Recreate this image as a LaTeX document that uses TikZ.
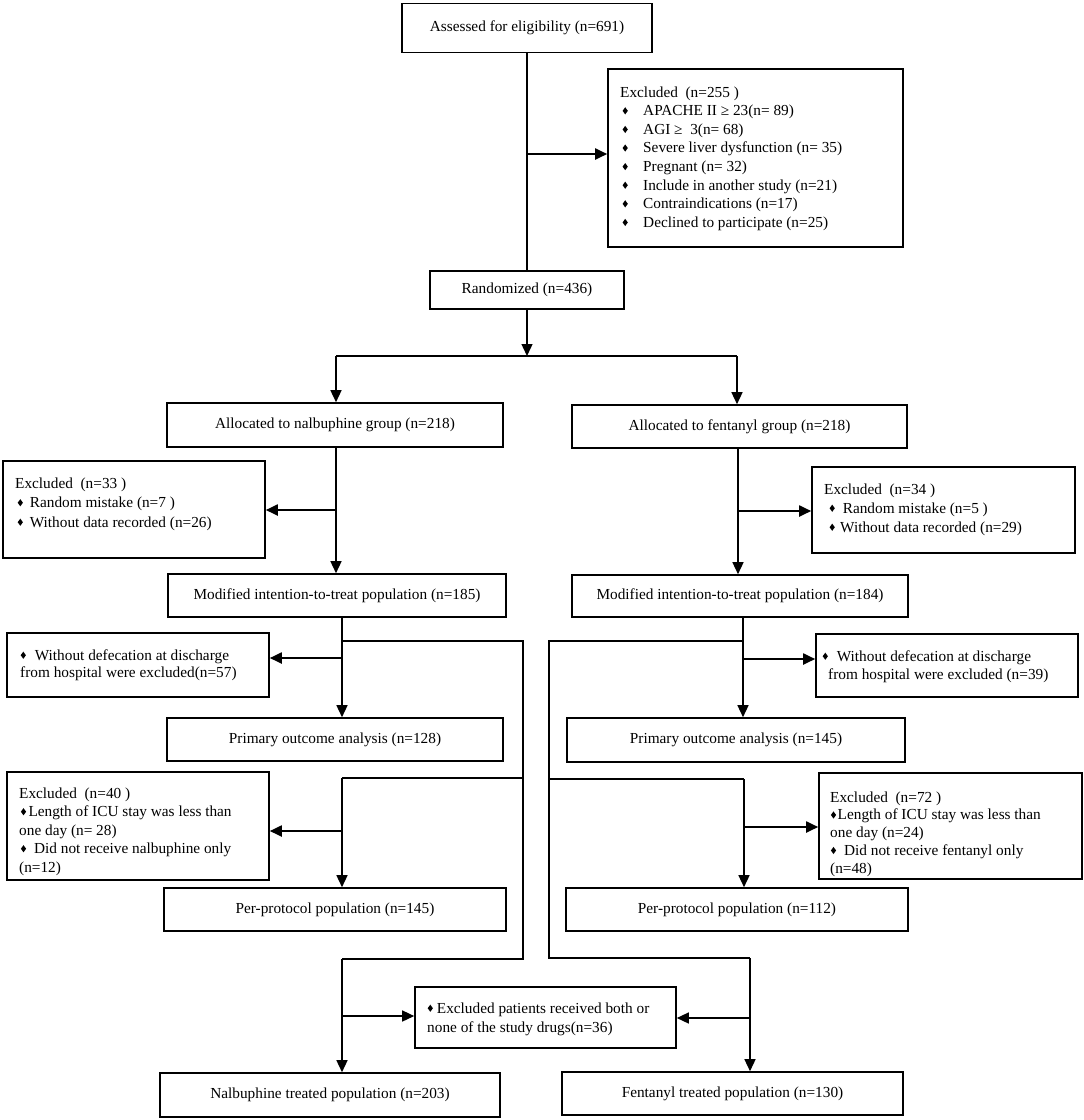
\documentclass[tikz,border=0pt]{standalone}
\usepackage{fontspec}
\setmainfont{Liberation Serif}
\usetikzlibrary{arrows.meta}
\newcommand\dmd{\raisebox{1.2pt}{\scalebox{0.8}[1.1]{\rotatebox{45}{\rule{4.6pt}{4.6pt}}}}}
\newcommand\itm{\makebox[23pt][l]{\hspace{2.4pt}\dmd}}
\newcommand\mlines[2]{{\fontsize{15.3}{#1}\selectfont\begin{tabular}[t]{@{}l@{}}#2\end{tabular}}}
\begin{document}
\begin{tikzpicture}[x=1pt,y=-1pt,
  box/.style={draw,line width=1.6pt,inner sep=0pt,font=\fontsize{15.3}{18.5}\selectfont},
  ln/.style={line width=1.4pt},
  arr/.style={line width=1.4pt,-{Triangle[length=12pt,width=11pt]}},
  sarr/.style={line width=1.9pt,-{Triangle[length=12pt,width=11pt]}},
  txt/.style={anchor=base west,inner sep=0pt}]
\useasboundingbox[fill=white] (0,0) rectangle (1084,1120);

% ---------- boxes ----------
\node[box,minimum width=250pt,minimum height=49pt] (assess) at (527,28) {Assessed for eligibility (n=691)};
\node[box,minimum width=295pt,minimum height=178pt] (excl0) at (755.5,158) {};
\node[txt] (excl0t) at (620,97) {\mlines{18.6}{Excluded\ \ (n=255 )\\
\itm APACHE II ≥ 23(n= 89)\\
\itm AGI ≥\ \ 3(n= 68)\\
\itm Severe liver dysfunction (n= 35)\\
\itm Pregnant (n= 32)\\
\itm Include in another study (n=21)\\
\itm Contraindications (n=17)\\
\itm Declined to participate (n=25)}};

\node[box,minimum width=194pt,minimum height=38pt] (rand) at (527,290) {Randomized (n=436)};
\node[box,minimum width=336pt,minimum height=44pt] (allocL) at (335,425) {Allocated to nalbuphine group (n=218)};
\node[box,minimum width=335pt,minimum height=43pt] (allocR) at (739.5,426.5) {Allocated to fentanyl group (n=218)};

\node[box,minimum width=262pt,minimum height=97pt] (exclL1) at (134,509.5) {};
\node[txt] (exclL1t) at (15,488) {\mlines{19.5}{Excluded\ \ (n=33 )\\
\hspace{2.5pt}\dmd\hspace{7pt}Random mistake (n=7 )\\
\hspace{2.5pt}\dmd\hspace{7pt}Without data recorded (n=26)}};

\node[box,minimum width=263pt,minimum height=86pt] (exclR1) at (943.5,510) {};
\node[txt] (exclR1t) at (824,494) {\mlines{19}{Excluded\ \ (n=34 )\\
\hspace{5.4pt}\dmd\hspace{8pt}Random mistake (n=5 )\\
\hspace{5.4pt}\dmd\hspace{5.4pt}Without data recorded (n=29)}};

\node[box,minimum width=338pt,minimum height=43pt] (mittL) at (337,595.5) {Modified intention-to-treat population (n=185)};
\node[box,minimum width=336pt,minimum height=42pt] (mittR) at (740,596) {Modified intention-to-treat population (n=184)};

\node[box,minimum width=262pt,minimum height=64pt] (defL) at (138,665) {};
\node[txt] (defLt) at (20,660) {\mlines{17.5}{\hspace{0.5pt}\dmd\hspace{9pt}Without defecation at discharge\\
from hospital were excluded(n=57)}};

\node[box,minimum width=262pt,minimum height=63pt] (defR) at (947,665.5) {};
\node[txt] (defRt) at (822,661) {\mlines{18}{\hspace{0.5pt}\dmd\hspace{9pt}Without defecation at discharge\\
\hspace{6pt}from hospital were excluded (n=39)}};

\node[box,minimum width=336pt,minimum height=43pt] (primL) at (335,739.5) {Primary outcome analysis (n=128)};
\node[box,minimum width=338pt,minimum height=44pt] (primR) at (736,740) {Primary outcome analysis (n=145)};

\node[box,minimum width=262pt,minimum height=108pt] (exclL2) at (138,826) {};
\node[txt] (exclL2t) at (19,798) {\mlines{18.5}{Excluded\ \ (n=40 )\\
\hspace{1.7pt}\dmd\hspace{2.4pt}Length of ICU stay was less than\\
one day (n= 28)\\
\hspace{1.7pt}\dmd\hspace{8pt}Did not receive nalbuphine only\\
(n=12)}};

\node[box,minimum width=263pt,minimum height=106pt] (exclR2) at (950.5,826) {};
\node[txt] (exclR2t) at (830,802) {\mlines{17.75}{Excluded\ \ (n=72 )\\
\hspace{0.7pt}\dmd\hspace{1.6pt}Length of ICU stay was less than\\
one day (n=24)\\
\hspace{0.7pt}\dmd\hspace{8pt}Did not receive fentanyl only\\
(n=48)}};

\node[box,minimum width=342pt,minimum height=43pt] (ppL) at (335,909.5) {Per-protocol population (n=145)};
\node[box,minimum width=342pt,minimum height=43pt] (ppR) at (737,909.5) {Per-protocol population (n=112)};

\node[box,minimum width=261pt,minimum height=61pt] (cen) at (545.5,1017.5) {};
\node[txt] (cent) at (427,1013) {\mlines{19}{\hspace{0.5pt}\dmd\hspace{4pt}Excluded patients received both or\\
none of the study drugs(n=36)}};

\node[box,minimum width=340pt,minimum height=44pt] (nalT) at (330,1095) {Nalbuphine treated population (n=203)};
\node[box,minimum width=341pt,minimum height=43pt] (fenT) at (732.5,1093.5) {Fentanyl treated population (n=130)};

% ---------- connectors ----------
\draw[ln] (assess.south) -- (rand.north);
\coordinate (j0) at (527,154);
\draw[sarr] (j0) -- (j0 -| excl0.west);

\coordinate (split) at (527,356);
\coordinate (sL) at (336,356);
\coordinate (sR) at (737,356);
\draw[arr] (rand.south) -- (split);
\draw[ln] (sL) -- (sR);
\draw[arr] (sL) -- (sL |- allocL.north);
\draw[arr] (sR) -- (sR |- allocR.north);

\coordinate (cA) at (336,0);
\coordinate (cB) at (738,0);
\draw[arr] (allocL.south -| cA) -- (mittL.north -| cA);
\draw[arr] (allocR.south -| cB) -- (mittR.north -| cB);
\coordinate (jL1) at (336,510);
\draw[sarr] (jL1) -- (jL1 -| exclL1.east);
\coordinate (jR1) at (738,511);
\draw[sarr] (jR1) -- (jR1 -| exclR1.west);

% left lower branch
\coordinate (cL) at (342,0);
\coordinate (tL) at (342,641);
\coordinate (tLb) at (523,641);
\coordinate (uLb) at (523,778);
\coordinate (uL) at (342,778);
\coordinate (vLb) at (523,959);
\coordinate (vL) at (342,959);
\draw[arr] (mittL.south -| cL) -- (primL.north -| cL);
\draw[ln] (tL) -- (tLb) -- (vLb) -- (vL);
\draw[ln] (uLb) -- (uL);
\draw[arr] (uL) -- (uL |- ppL.north);
\draw[arr] (vL) -- (vL |- nalT.north);
\coordinate (aL1) at (342,658);
\draw[sarr] (aL1) -- (aL1 -| defL.east);
\coordinate (aL2) at (342,831);
\draw[sarr] (aL2) -- (aL2 -| exclL2.east);
\coordinate (aL3) at (342,1016);
\draw[arr] (aL3) -- (aL3 -| cen.west);

% right lower branch
\coordinate (cR) at (743,0);
\coordinate (tR) at (743,641);
\coordinate (tRb) at (549,641);
\coordinate (uRb) at (549,779);
\coordinate (uR) at (744,779);
\coordinate (vRb) at (549,958);
\coordinate (vR) at (750,958);
\draw[arr] (mittR.south -| cR) -- (primR.north -| cR);
\draw[ln] (tR) -- (tRb) -- (vRb) -- (vR);
\draw[ln] (uRb) -- (uR);
\draw[arr] (uR) -- (uR |- ppR.north);
\draw[arr] (vR) -- (vR |- fenT.north);
\coordinate (aR1) at (743,659);
\draw[sarr] (aR1) -- (aR1 -| defR.west);
\coordinate (aR2) at (744,827);
\draw[sarr] (aR2) -- (aR2 -| exclR2.west);
\coordinate (aR3) at (750,1018);
\draw[arr] (aR3) -- (aR3 -| cen.east);
\end{tikzpicture}
\end{document}
